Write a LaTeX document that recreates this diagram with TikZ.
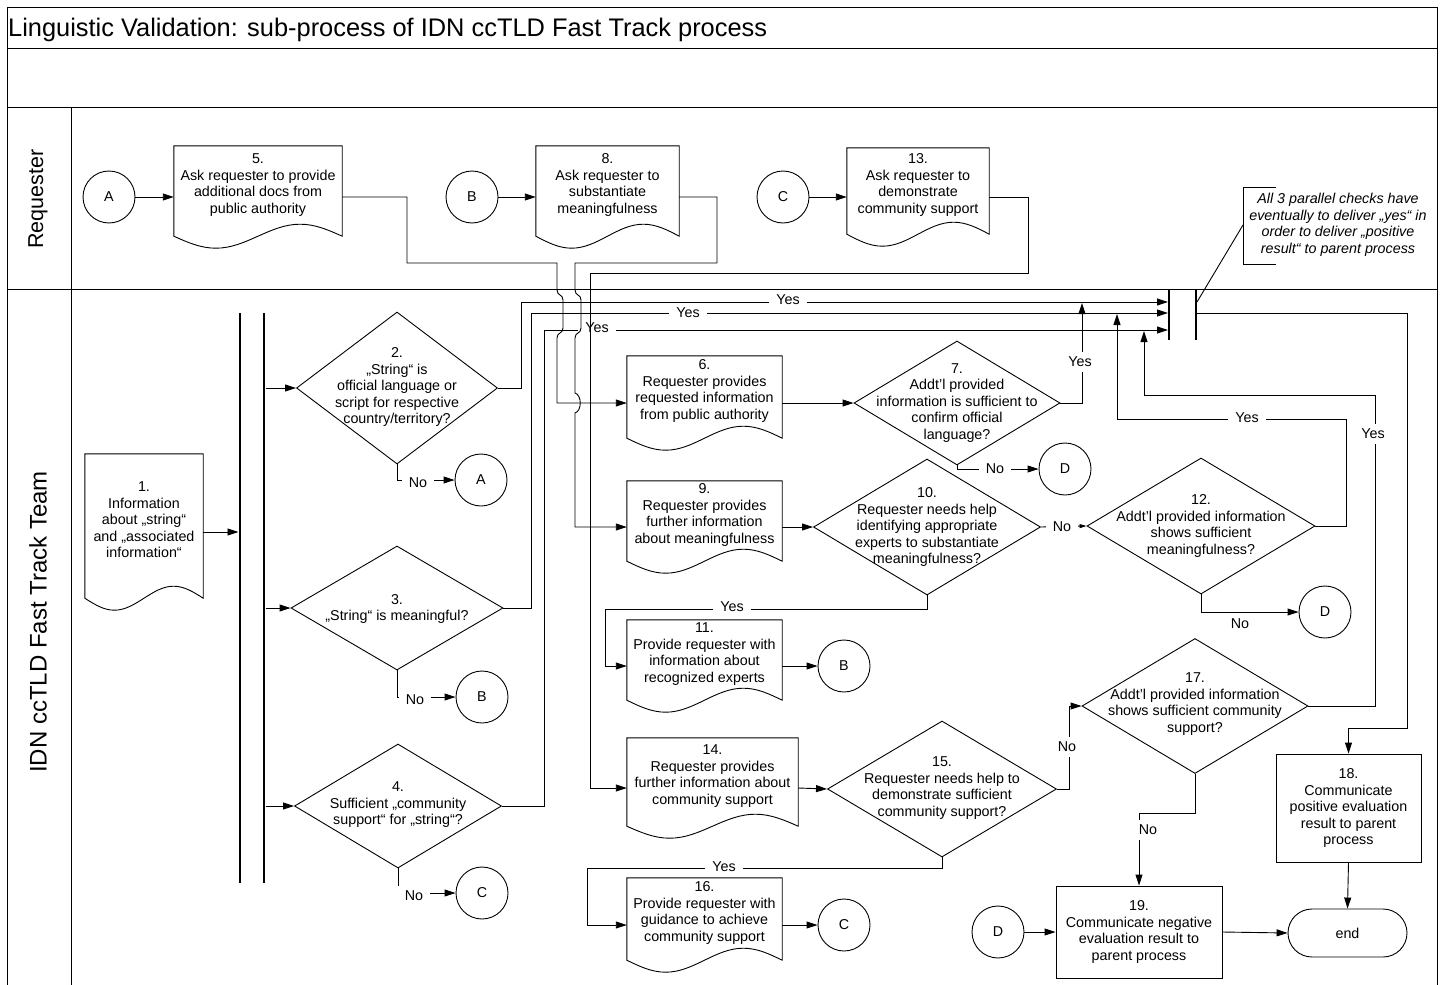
\documentclass[tikz,border=0pt]{standalone}
\usepackage{fontspec}
\setmainfont{Liberation Sans}
\usetikzlibrary{arrows.meta,shapes.geometric,calc}
\newcommand{\DocShape}[6]{%
  \node[docn, minimum width=#4, minimum height=#5] (#1) at (#2,#3) {};
  \draw[ln, fill=white] ([yshift=12pt]#1.south west) -- (#1.north west) -- (#1.north east) -- ([yshift=12pt]#1.south east)
    sin ($(#1.south west)!0.75!(#1.south east)+(0pt,24pt)$)
    cos ($(#1.south west)!0.5!(#1.south east)+(0pt,12pt)$)
    sin ($(#1.south west)!0.25!(#1.south east)$)
    cos ([yshift=12pt]#1.south west) -- cycle;
  \node[txt] (#1t) at ([yshift=12pt]#1.center) {#6};
}
\begin{document}
\begin{tikzpicture}[x=1pt,y=-1pt,
  ln/.style={line width=0.9pt, draw=black},
  arr/.style={ln, -{Triangle[length=11pt,width=7pt]}},
  sarr/.style={ln, -{Triangle[length=7pt,width=4pt]}},
  txt/.style={font=\fontsize{14.3}{16.5}\selectfont, align=center, inner sep=0pt},
  lbl/.style={font=\fontsize{14.3}{16.5}\selectfont, fill=white, inner xsep=7pt, inner ysep=5pt},
  docn/.style={draw=none, inner sep=0pt, rectangle},
  dia/.style={ln, fill=white, diamond, inner sep=0pt},
  circ/.style={ln, fill=white, circle, minimum size=52pt, inner sep=0pt, font=\fontsize{14.3}{16.5}\selectfont},
  box/.style={ln, fill=white, rectangle, inner sep=0pt, align=center, font=\fontsize{14.3}{16.5}\selectfont},
  bar/.style={fill=black, draw=none, inner sep=0pt, minimum width=2.6pt, rectangle},
  lane/.style={rotate=90, inner sep=0pt}
]
\useasboundingbox (0,0) rectangle (1444,985);

% frame
\draw[ln] (7,985) -- (7,7) -- (1437,7) -- (1437,985);
\draw[ln] (7,48) -- (1437,48);
\draw[ln] (7,107) -- (1437,107);
\draw[ln] (7,289) -- (1437,289);
\draw[ln] (71,107) -- (71,985);
\node[anchor=west, inner sep=0pt, font=\fontsize{25.4}{28}\selectfont] (title) at (8,30) {Linguistic Validation: sub-process of IDN ccTLD Fast Track process};
\node[lane, font=\fontsize{21.5}{24}\selectfont] (lreq) at (38,199) {Requester};
\node[lane, font=\fontsize{24}{27}\selectfont] (lteam) at (38,622) {IDN ccTLD Fast Track Team};

% bars
\node[bar, minimum height=570] (bar1) at (240,598) {};
\node[bar, minimum height=570] (bar2) at (264,598) {};
\node[bar, minimum height=50] (bar3) at (1169,315) {};
\node[bar, minimum height=50] (bar4) at (1196,315) {};
\coordinate (in2) at (1168,302);
\coordinate (in3) at (1168,313);
\coordinate (in4) at (1168,330);
\coordinate (out4) at (1197,313);
\coordinate (j7) at (1082,303);
\coordinate (j12) at (1117,314);
\coordinate (j17) at (1144,331);

% documents
\DocShape{d1}{144}{532}{118}{156}{1.\\Information\\about „string“\\and „associated\\information“}
\DocShape{d5}{258}{197}{168}{102}{5.\\Ask requester to provide\\additional docs from\\public authority}
\DocShape{d8}{607.5}{197}{143}{102}{8.\\Ask requester to\\substantiate\\meaningfulness}
\DocShape{d13}{918}{197}{142}{98}{13.\\Ask requester to\\demonstrate\\community support}
\DocShape{d6}{704.5}{403}{155}{94}{6.\\Requester provides\\requested information\\from public authority}
\DocShape{d9}{704.5}{527}{155}{92}{9.\\Requester provides\\further information\\about meaningfulness}
\DocShape{d11}{704.5}{666}{155}{92}{11.\\Provide requester with\\information about\\recognized experts}
\DocShape{d14}{712.5}{788}{171}{100}{14.\\Requester provides\\further information about\\community support}
\DocShape{d16}{704.5}{925}{155}{94}{16.\\Provide requester with\\guidance to achieve\\community support}

% decisions
\node[dia, minimum width=201, minimum height=152] (q2) at (397,388) {};
\node[txt] (q2t) at (397,387) {2.\\„String“ is\\official language or\\script for respective\\country/territory?};
\node[dia, minimum width=212, minimum height=124] (q3) at (397,608) {};
\node[txt] (q3t) at (397,609) {3.\\„String“ is meaningful?};
\node[dia, minimum width=207, minimum height=124] (q4) at (398,806) {};
\node[txt] (q4t) at (398,805) {4.\\Sufficient „community\\support“ for „string“?};
\node[dia, minimum width=206, minimum height=124] (q7) at (957,403) {};
\node[txt] (q7t) at (957,403) {7.\\Addt’l provided\\information is sufficient to\\confirm official\\language?};
\node[dia, minimum width=227, minimum height=136] (q10) at (927,527) {};
\node[txt] (q10t) at (927,527) {10.\\Requester needs help\\identifying appropriate\\experts to substantiate\\meaningfulness?};
\node[dia, minimum width=228, minimum height=136] (q12) at (1201,526) {};
\node[txt] (q12t) at (1201,526) {12.\\Addt’l provided information\\shows sufficient\\meaningfulness?};
\node[dia, minimum width=229, minimum height=136] (q15) at (942,789) {};
\node[txt] (q15t) at (942,788) {15.\\Requester needs help to\\demonstrate sufficient\\community support?};
\node[dia, minimum width=226, minimum height=135] (q17) at (1195,706) {};
\node[txt] (q17t) at (1195,704) {17.\\Addt’l provided information\\shows sufficient community\\support?};

% boxes
\node[box, minimum width=145, minimum height=108] (d18) at (1348.5,808) {18.\\Communicate\\positive evaluation\\result to parent\\process};
\node[box, minimum width=166, minimum height=92] (d19) at (1139,932) {19.\\Communicate negative\\evaluation result to\\parent process};
\node[box, rounded corners=24pt, minimum width=119, minimum height=48] (endn) at (1347.5,933) {end};

% off-page connectors
\node[circ] (cA1) at (109,197) {A};
\node[circ] (cB1) at (472,197) {B};
\node[circ] (cC1) at (783,197) {C};
\node[circ] (cA2) at (481,480) {A};
\node[circ] (cB2) at (482,697) {B};
\node[circ] (cC2) at (482,893) {C};
\node[circ] (cD1) at (1065,469) {D};
\node[circ] (cB3) at (844,666) {B};
\node[circ] (cD2) at (1325,612) {D};
\node[circ] (cC3) at (844,925) {C};
\node[circ] (cD3) at (998,932) {D};

% annotation
\node[txt, font=\fontsize{14.3}{16.5}\selectfont\itshape] (note) at (1338,225) {All 3 parallel checks have\\eventually to deliver „yes“ in\\order to deliver „positive\\result“ to parent process};
\coordinate (nt) at (1243,225);
\coordinate (nb) at (1197,302);
\draw[ln] (1276,187) -- (1243,187) -- (1243,264) -- (1276,264);
\draw[ln] (nt) -- (nb);

% simple arrows
\draw[arr] (cA1) -- (d5.west);
\draw[arr] (cB1) -- (d8.west);
\draw[arr] (cC1) -- (d13.west);
\draw[arr] (d1.east) -- (d1.east -| bar1.west);
\draw[arr] (bar2.east |- q2.west) -- (q2.west);
\draw[arr] (bar2.east |- q3.west) -- (q3.west);
\draw[arr] (bar2.east |- q4.west) -- (q4.west);
\draw[arr] (d6.east) -- (q7.west);
\draw[arr] (d9.east) -- (q10.west);
\draw[sarr] (q10.east) -- (q12.west);
\draw[arr] (d11.east) -- (cB3.west);
\draw[arr] (d14.east) -- (q15.west);
\draw[arr] (d16.east) -- (cC3.west);
\draw[arr] (d18.south) -- (endn.north);
\draw[arr] (d19.east) -- (endn.west);
\draw[arr] (cD3.east) -- (d19.west);

% No branches
\draw[arr] (q2.south) |- (cA2.west);
\draw[arr] (q3.south) |- (cB2.west);
\draw[arr] (q4.south) |- (cC2.west);
\draw[arr] (q7.south) |- (cD1.west);
\draw[arr] (q12.south) |- (cD2.west);
\draw[arr] (q15.east) -- (1069,789) |- (q17.west);
\draw[arr] (q17.south) |- (1139,813) -- (d19.north);

% Yes branches
\draw[arr] (q2.east) -| (521,302) -- (in2);
\draw[arr] (q3.east) -| (531,313) -- (in3);
\draw[arr] (q4.east) -| (544,330) -- (in4);
\draw[arr] (q7.east) -| (j7);
\draw[arr] (q12.east) -| (1346,419) -| (j12);
\draw[arr] (q17.east) -| (1375,395) -| (j17);
\draw[arr] (q10.south) |- (605,609) |- (d11.west);
\draw[arr] (q15.south) |- (587,868) |- (d16.west);
\draw[arr] (out4) -| (1407,728) -| (d18.north);

% labels
\node[lbl] (y2) at (788,300) {Yes};
\node[lbl] (y3) at (688,313) {Yes};
\node[lbl] (y4) at (597,328) {Yes};
\node[lbl] (y7) at (1080,362) {Yes};
\node[lbl] (y12) at (1247,418) {Yes};
\node[lbl] (y17) at (1373,434) {Yes};
\node[lbl] (y10) at (732,607) {Yes};
\node[lbl] (y15) at (724,867) {Yes};
\node[lbl] (n2) at (418,483) {No};
\node[lbl] (n3) at (415,700) {No};
\node[lbl] (n4) at (414,896) {No};
\node[lbl] (n7) at (995,469) {No};
\node[lbl] (n10) at (1062,527) {No};
\node[lbl] (n12) at (1240,624) {No};
\node[lbl] (n15) at (1067,747) {No};
\node[lbl] (n17) at (1148,830) {No};

% long connectors from requester lane (drawn over labels)
\draw[arr] (d5.east) -| (407,263) -| (557,290)
  .. controls (557,296) and (563,294) .. (563,300) -- (563,328)
  .. controls (563,334) and (557,332) .. (557,338) |- (d6.west);
\draw[arr] (d8.east) -| (717,263) -| (575,290)
  .. controls (575,296) and (581,294) .. (581,300) -- (581,328)
  .. controls (581,334) and (575,332) .. (575,338) -- (575,393)
  .. controls (582,395) and (582,411) .. (575,413) |- (d9.west);
\draw[arr] (d13.east) -| (1028,273) -- (590,273) |- (d14.west);
\end{tikzpicture}
\end{document}
